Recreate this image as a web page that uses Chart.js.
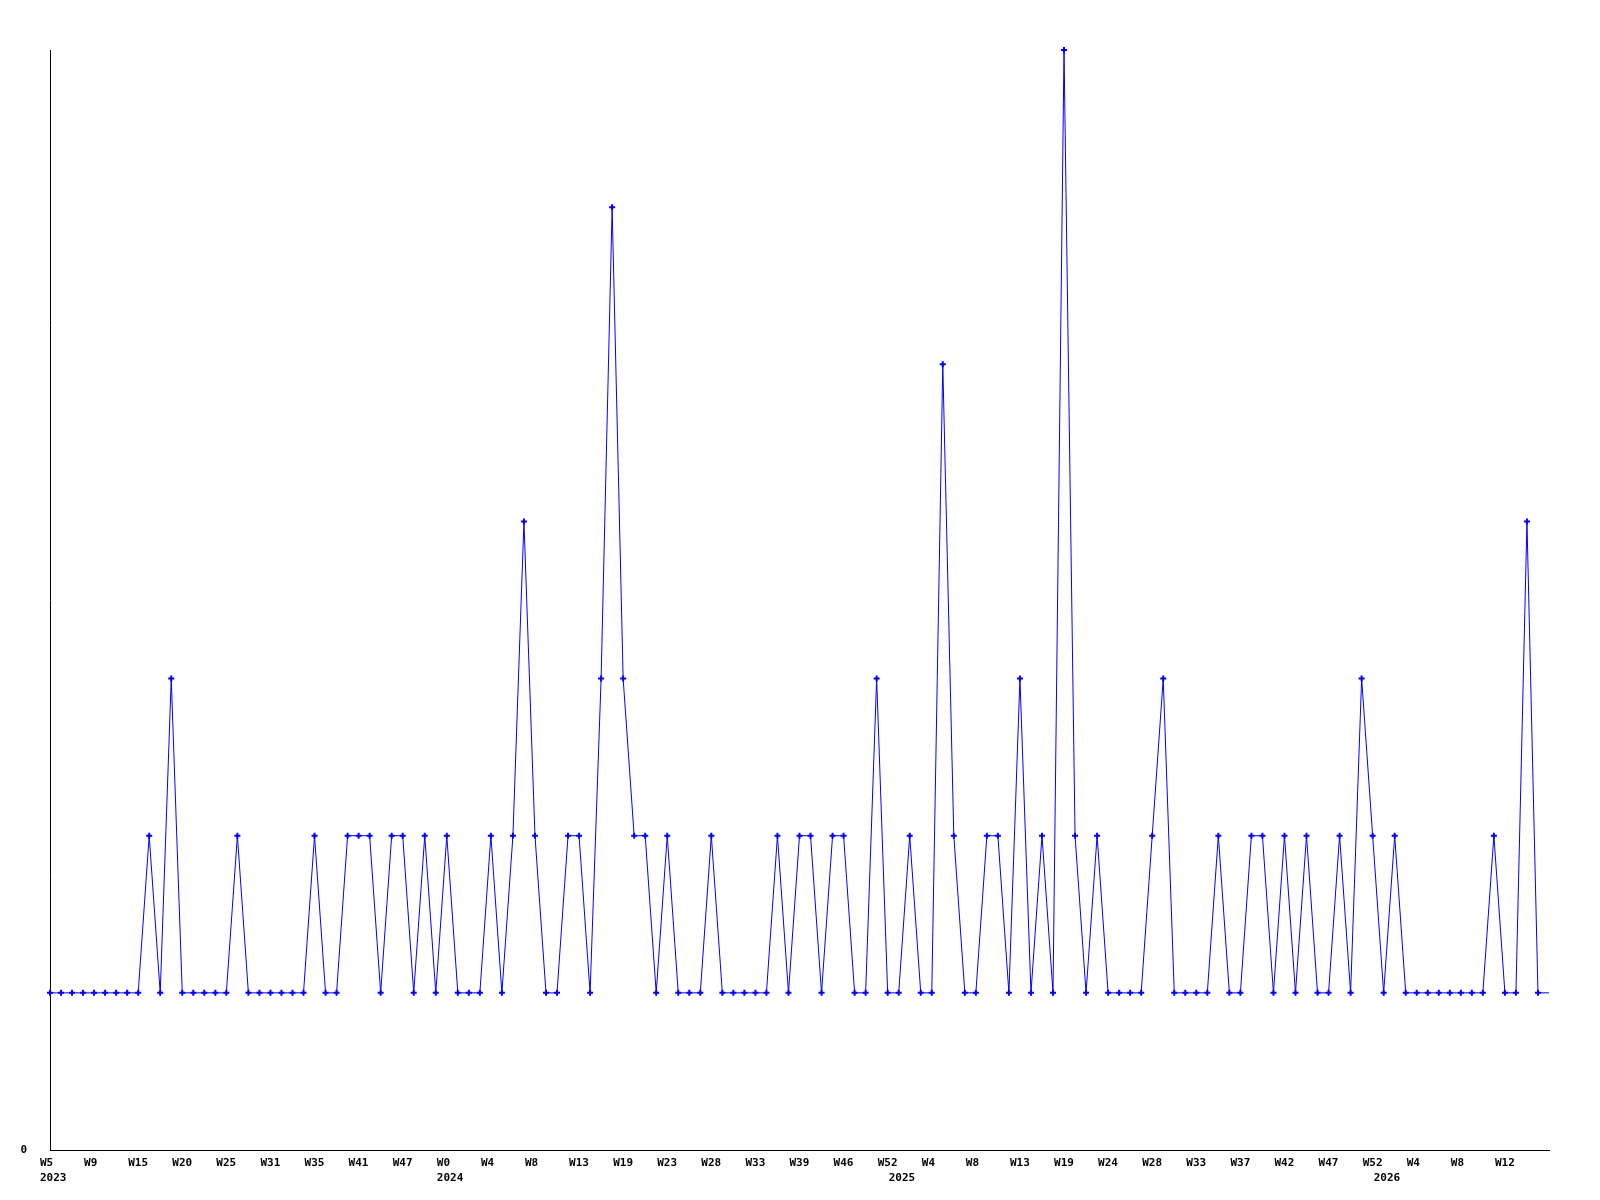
<!DOCTYPE html>
<html lang="en">
<head>
    <meta charset="UTF-8">
    <title>Weekly count</title>
    <script src="https://cdn.jsdelivr.net/npm/chart.js@4.4.1/dist/chart.umd.min.js"></script>
    <style>
        body { margin: 0; background: #fff; }
        #wrap { width: 1600px; height: 1200px; }
    </style>
</head>
<body>
    <div id="wrap"><canvas id="myChart" width="1600" height="1200"></canvas></div>

    <script>
        // one value per sample
        const values = [
            1, 1, 1, 1, 1, 1, 1, 1, 1, 2, 1, 3, 1, 1, 1, 1, 1, 2, 1, 1,
            1, 1, 1, 1, 2, 1, 1, 2, 2, 2, 1, 2, 2, 1, 2, 1, 2, 1, 1, 1,
            2, 1, 2, 4, 2, 1, 1, 2, 2, 1, 3, 6, 3, 2, 2, 1, 2, 1, 1, 1,
            2, 1, 1, 1, 1, 1, 2, 1, 2, 2, 1, 2, 2, 1, 1, 3, 1, 1, 2, 1,
            1, 5, 2, 1, 1, 2, 2, 1, 3, 1, 2, 1, 7, 2, 1, 2, 1, 1, 1, 1,
            2, 3, 1, 1, 1, 1, 2, 1, 1, 2, 2, 1, 2, 1, 2, 1, 1, 2, 1, 3,
            2, 1, 2, 1, 1, 1, 1, 1, 1, 1, 1, 2, 1, 1, 4, 1, 1
        ];

        // x tick labels, one every 4 samples
        const tickLabels = [
            'W5', 'W9', 'W15', 'W20', 'W25', 'W31', 'W35', 'W41', 'W47',
            'W0', 'W4', 'W8', 'W13', 'W19', 'W23', 'W28', 'W33', 'W39',
            'W46', 'W52', 'W4', 'W8', 'W13', 'W19', 'W24', 'W28', 'W33',
            'W37', 'W42', 'W47', 'W52', 'W4', 'W8', 'W12'
        ];
        const tickEvery = 4;

        // year markers: sample index where each year begins
        const years = ['2023', '2024', '2025', '2026'];
        const yearIndex = [0, 36, 77, 121];

        const yTickLabels = ['0'];

        const categories = values.map((v, i) => String(i));

        const FONT = 'bold 11px "DejaVu Sans Mono"';

        // draws axis text in the old fixed-font style, left aligned next to each tick
        const axisText = {
            id: 'axisText',
            afterDraw(chart) {
                const ctx = chart.ctx;
                const xs = chart.scales.x;
                const ys = chart.scales.y;
                const area = chart.chartArea;
                ctx.save();
                ctx.font = FONT;
                ctx.fillStyle = '#000';
                ctx.textBaseline = 'middle';
                ctx.textAlign = 'left';
                tickLabels.forEach((t, k) => {
                    const px = xs.getPixelForValue(k * tickEvery);
                    ctx.fillText(t, px - 10, area.bottom + 13);
                });
                years.forEach((y, k) => {
                    const px = xs.getPixelForValue(yearIndex[k]);
                    ctx.fillText(y, px - 10, area.bottom + 28);
                });
                ctx.textAlign = 'right';
                ctx.fillText(yTickLabels[0], 27, ys.getPixelForValue(0));
                ctx.restore();
            }
        };

        window.onload = function() {
            const ctx = document.getElementById('myChart').getContext('2d');
            const last = values.length - 1;

            new Chart(ctx, {
                type: 'line',
                data: {
                    labels: categories,
                    datasets: [{
                        data: values,
                        borderColor: '#0000ff',
                        backgroundColor: '#0000ff',
                        borderWidth: 1,
                        tension: 0,
                        fill: false,
                        pointStyle: 'cross',
                        pointRadius: c => c.dataIndex === last ? 0 : 3,
                        pointBorderWidth: 2,
                        pointBorderColor: '#0000ff',
                        clip: false
                    }]
                },
                options: {
                    responsive: false,
                    animation: false,
                    events: [],
                    layout: { padding: { left: 50, top: 50, right: 51, bottom: 50 } },
                    plugins: {
                        legend: { display: false },
                        tooltip: { enabled: false }
                    },
                    scales: {
                        x: {
                            offset: false,
                            grid: { display: false, drawTicks: false },
                            border: { display: true, color: '#000', width: 1 },
                            ticks: { display: false }
                        },
                        y: {
                            min: 0,
                            max: 7,
                            grid: { display: false, drawTicks: false },
                            border: { display: true, color: '#000', width: 1 },
                            ticks: { display: false }
                        }
                    }
                },
                plugins: [axisText]
            });
        };
    </script>
</body>
</html>
